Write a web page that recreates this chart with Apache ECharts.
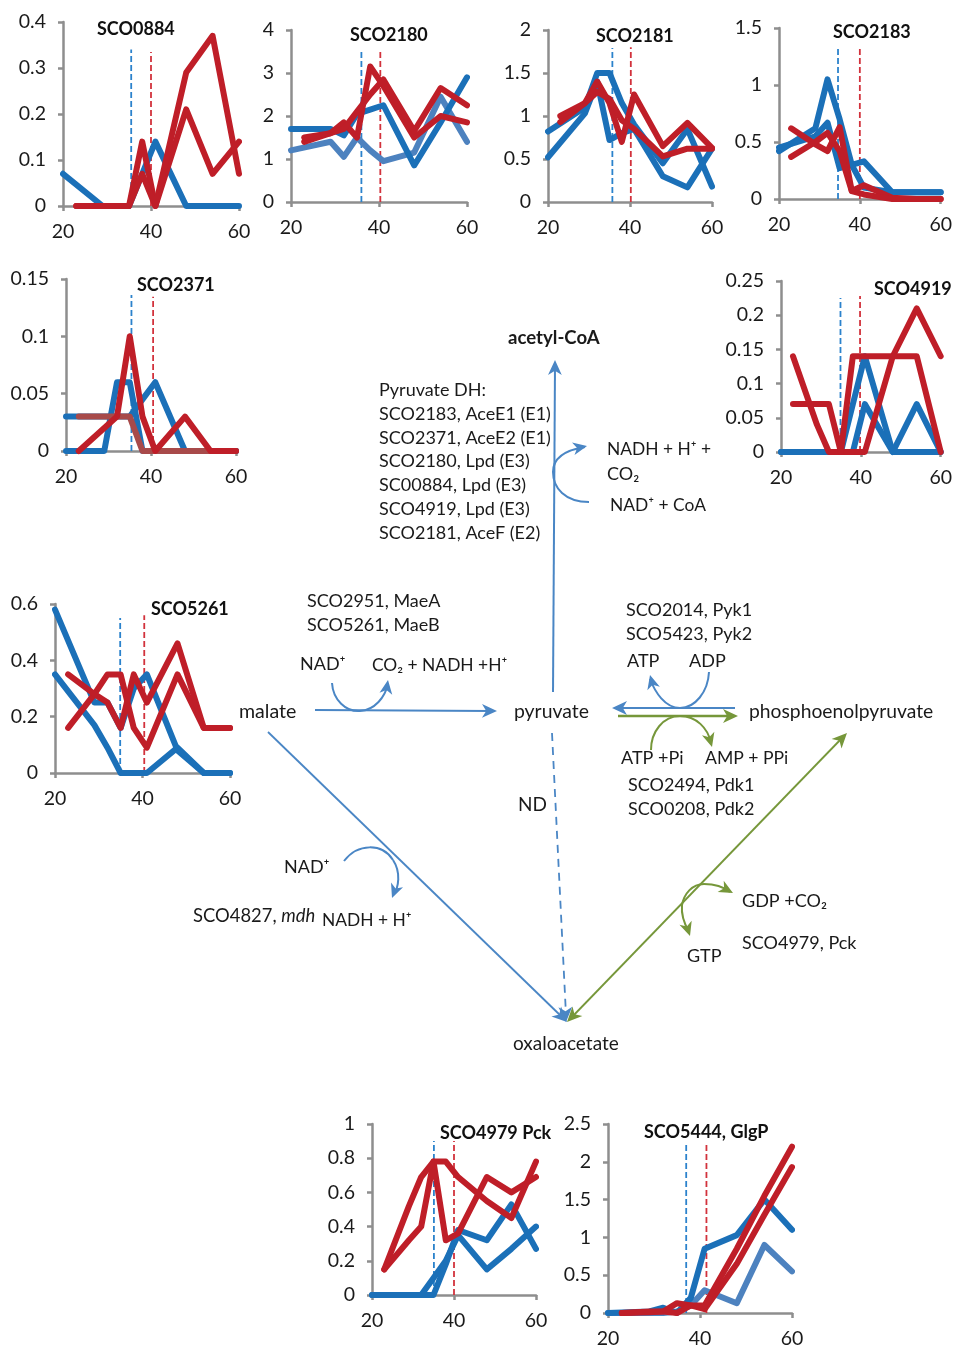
<!DOCTYPE html>
<html>
<head>
<meta charset="utf-8">
<style>html,body{margin:0;padding:0;background:#fff}#c{width:955px;height:1349px}</style>
<script src="https://cdn.jsdelivr.net/npm/echarts@6/dist/echarts.min.js"></script>
</head>
<body>
<div id="c"></div>
<script>
// ---- shared sampling times (h) ----
const blueTimes = [20, 29, 32, 35, 38, 41, 48, 54, 60];
const redTimes  = [23, 29, 32, 35, 38, 41, 48, 54, 60];

// ---- values ----
const sco0884Blue1 = [0.07, 0, 0, 0, 0.07, 0.14, 0, 0, 0];
const sco0884Red1  = [0, 0, 0, 0, 0.14, 0, 0.21, 0.07, 0.14];
const sco0884Red2  = [0, 0, 0, 0, 0.07, 0, 0.29, 0.37, 0.07];

const sco2180Blue1 = [1.7, 1.7, 1.55, 2.05, 2.15, 2.25, 0.85, 1.85, 2.9];
const sco2180Blue2 = [1.2, 1.4, 1.05, 1.5, 1.2, 0.95, 1.15, 2.45, 1.4];
const sco2180Red1  = [1.4, 1.6, 1.85, 1.5, 3.15, 2.7, 1.5, 2.0, 1.85];
const sco2180Red2  = [1.5, 1.6, 1.7, 2.1, 2.5, 2.85, 1.65, 2.65, 2.25];

const sco2181Blue1 = [0.82, 1.1, 1.5, 1.5, 1.15, 0.9, 0.45, 0.85, 0.18];
const sco2181Blue2 = [0.52, 1.03, 1.4, 0.72, 0.8, 0.85, 0.3, 0.17, 0.62];
const sco2181Red1  = [0.93, 1.15, 1.4, 1.15, 0.7, 1.25, 0.65, 0.92, 0.63];
const sco2181Red2  = [1.0, 1.15, 1.28, 1.2, 0.95, 0.85, 0.53, 0.62, 0.62];

const sco2183Blue1 = [0.42, 0.62, 1.05, 0.7, 0.3, 0.33, 0.06, 0.06, 0.06];
const sco2183Blue2 = [0.45, 0.55, 0.67, 0.27, 0.3, 0.1, 0.06, 0.06, 0.06];
const sco2183Red1  = [0.62, 0.48, 0.42, 0.63, 0.07, 0.12, 0.01, 0, 0];
const sco2183Red2  = [0.37, 0.5, 0.58, 0.42, 0.07, 0.04, 0, 0, 0];

const sco2371Blue1 = [0, 0, 0.06, 0.06, 0, 0, 0, 0, 0];
const sco2371Blue2 = [0.03, 0.03, 0.03, 0.03, 0.045, 0.06, 0, 0, 0];
const sco2371Red1  = [0.03, 0.03, 0.03, 0.03, 0, 0, 0, 0, 0];
const sco2371Red2  = [0, 0.02, 0.03, 0.1, 0.03, 0, 0.03, 0, 0];

const sco4919Blue1 = [0, 0, 0, 0, 0.07, 0.14, 0, 0, 0];
const sco4919Blue2 = [0, 0, 0, 0, 0, 0.07, 0, 0.07, 0];
const sco4919Red1  = [0.14, 0.04, 0, 0, 0, 0, 0.14, 0.21, 0.14];
const sco4919Red2  = [0.07, 0.07, 0.07, 0, 0.14, 0.14, 0.14, 0.14, 0];

const sco5261Blue1 = [0.58, 0.25, 0.25, 0.16, 0.3, 0.35, 0.08, 0, 0];
const sco5261Blue2 = [0.35, 0.17, 0.09, 0, 0, 0, 0.09, 0, 0];
const sco5261Red1  = [0.16, 0.28, 0.35, 0.35, 0.16, 0.09, 0.35, 0.16, 0.16];
const sco5261Red2  = [0.35, 0.28, 0.25, 0.16, 0.35, 0.25, 0.46, 0.16, 0.16];

const sco4979Blue1 = [0, 0, 0, 0.1, 0.2, 0.35, 0.15, 0.27, 0.4];
const sco4979Blue2 = [0, 0, 0, 0, 0.18, 0.38, 0.32, 0.53, 0.27];
const sco4979Red1  = [0.15, 0.32, 0.4, 0.78, 0.32, 0.36, 0.69, 0.6, 0.69];
const sco4979Red2  = [0.15, 0.52, 0.69, 0.78, 0.78, 0.69, 0.55, 0.45, 0.78];

const sco5444Blue1 = [0, 0.02, 0.07, 0, 0.2, 0.85, 1.03, 1.5, 1.1];
const sco5444Blue2 = [0, 0, 0, 0.02, 0.1, 0.3, 0.13, 0.9, 0.55];
const sco5444Red1  = [0, 0.01, 0.02, 0.13, 0.1, 0.05, 0.65, 1.3, 1.93];
const sco5444Red2  = [0, 0.02, 0.02, 0, 0.1, 0.1, 0.85, 1.55, 2.2];

// transition markers [time, height of the dashed line]
const marks0884 = [[35.5, 0.34], [40, 0.335]];
const marks2180 = [[36, 3.5], [40.3, 3.55]];
const marks2181 = [[35.7, 1.79], [40.2, 1.8]];
const marks2183 = [[34.6, 1.32], [40, 1.335]];
const marks2371 = [[35.4, 0.136], [40.5, 0.1345]];
const marks4919 = [[34.9, 0.225], [39.8, 0.228]];
const marks5261 = [[34.9, 0.55], [40.4, 0.56]];
const marks4979 = [[35.1, 0.9], [40, 0.9]];
const marks5444 = [[37, 2.24], [41.4, 2.26]];

// ---- colours / fonts ----
const FONT = 'Lato';
const BLUE = '#1b70b8', BLUE_L = '#4d82bf', RED = '#bf1e28', RED_T = '#a84a4a';
const ARROW_B = '#4a86c5', ARROW_G = '#76973a', AXIS = '#8e8e8e', INK = '#1a1a1a';

// ---- panels ----
const panels = [
  {name:'SCO0884', tx:97, ty:30, x0:63, x1:239, y0:206, y1:22, max:0.4, step:0.1, marks:marks0884,
   blue:[[sco0884Blue1,BLUE]], red:[[sco0884Red1,RED],[sco0884Red2,RED]]},
  {name:'SCO2180', tx:350, ty:36, x0:291, x1:467, y0:202, y1:30, max:4, step:1, marks:marks2180,
   blue:[[sco2180Blue2,BLUE_L],[sco2180Blue1,BLUE]], red:[[sco2180Red1,RED],[sco2180Red2,RED]]},
  {name:'SCO2181', tx:596, ty:37, x0:548, x1:712, y0:202, y1:30, max:2, step:0.5, marks:marks2181,
   blue:[[sco2181Blue1,BLUE],[sco2181Blue2,BLUE]], red:[[sco2181Red1,RED],[sco2181Red2,RED]]},
  {name:'SCO2183', tx:833, ty:33, x0:779, x1:943, y0:199, y1:28, max:1.5, step:0.5, marks:marks2183,
   blue:[[sco2183Blue1,BLUE],[sco2183Blue2,BLUE]], red:[[sco2183Red1,RED],[sco2183Red2,RED]]},
  {name:'SCO2371', tx:137, ty:286, x0:66, x1:236, y0:451, y1:279, max:0.15, step:0.05, marks:marks2371,
   blue:[[sco2371Blue1,BLUE],[sco2371Blue2,BLUE]], red:[[sco2371Red1,RED_T],[sco2371Red2,RED]]},
  {name:'SCO4919', tx:874, ty:290, x0:781, x1:946, y0:452, y1:281, max:0.25, step:0.05, marks:marks4919,
   blue:[[sco4919Blue1,BLUE],[sco4919Blue2,BLUE]], red:[[sco4919Red1,RED],[sco4919Red2,RED]]},
  {name:'SCO5261', tx:151, ty:610, x0:55, x1:230, y0:773, y1:604, max:0.6, step:0.2, marks:marks5261,
   blue:[[sco5261Blue1,BLUE],[sco5261Blue2,BLUE]], red:[[sco5261Red1,RED],[sco5261Red2,RED]]},
  {name:'SCO4979 Pck', tx:440, ty:1134, x0:372, x1:536, y0:1295, y1:1124, max:1, step:0.2, marks:marks4979,
   blue:[[sco4979Blue1,BLUE],[sco4979Blue2,BLUE]], red:[[sco4979Red1,RED],[sco4979Red2,RED]]},
  {name:'SCO5444, GlgP', tx:644, ty:1133, x0:608, x1:792, y0:1314, y1:1124, max:2.5, step:0.5, marks:marks5444,
   blue:[[sco5444Blue2,BLUE_L],[sco5444Blue1,BLUE]], red:[[sco5444Red1,RED],[sco5444Red2,RED]]}
];

const zip = (xs, ys) => xs.map((x, i) => [x, ys[i]]);
const grid = [], xAxis = [], yAxis = [], series = [], title = [];
panels.forEach((p, i) => {
  grid.push({left:p.x0, top:p.y1, width:p.x1 - p.x0, height:p.y0 - p.y1});
  const axisLine = {onZero:false, lineStyle:{color:AXIS, width:2.5}};
  const axisTick = {length:5, lineStyle:{color:AXIS, width:2.5}};
  const axisLabel = {color:INK, fontFamily:FONT, fontSize:19.5};
  xAxis.push({type:'value', gridIndex:i, min:20, max:60, interval:20, splitLine:{show:false},
    axisLine, axisTick, axisLabel:{...axisLabel, margin:16}});
  yAxis.push({type:'value', gridIndex:i, min:0, max:p.max, interval:p.step, splitLine:{show:false},
    axisLine, axisTick, axisLabel:{...axisLabel, margin:17}});
  title.push({text:p.name, left:p.tx, top:p.ty - 10, padding:0,
    textStyle:{fontFamily:FONT, fontSize:18, fontWeight:'bold', color:'#111'}});
  const base = {type:'line', xAxisIndex:i, yAxisIndex:i, symbol:'none', silent:true, clip:false, animation:false};
  p.marks.forEach((m, k) => series.push({...base,
    data:[[m[0], 0], [m[0], m[1]]],
    lineStyle:{color:k ? '#d2323c' : '#2b82cc', width:1.8, type:[6, 3]}}));
  p.blue.forEach(b => series.push({...base, data:zip(blueTimes, b[0]),
    lineStyle:{color:b[1], width:6, cap:'round', join:'round'}}));
  p.red.forEach(r => series.push({...base, data:zip(redTimes, r[0]),
    lineStyle:{color:r[1], width:6, cap:'round', join:'round'}}));
});

// ---- pathway diagram annotations ----
const g = [];
function text(x, y, s, o) {
  o = o || {};
  g.push({type:'text', silent:true, style:{x, y, text:s, fill:INK, align:'left', verticalAlign:'middle',
    font:(o.bold ? 'bold ' : '') + (o.size || 18) + 'px ' + FONT, rich:o.rich}});
}
function line(x1, y1, x2, y2, c, w, dash) {
  g.push({type:'line', silent:true, shape:{x1, y1, x2, y2}, style:{stroke:c, lineWidth:w || 1.6, lineDash:dash}});
}
function curve(x1, y1, a, b, c, d, x2, y2, col) {
  g.push({type:'bezierCurve', silent:true, shape:{x1, y1, cpx1:a, cpy1:b, cpx2:c, cpy2:d, x2, y2},
    style:{stroke:col, lineWidth:2, fill:null}});
}
function head(x, y, fx, fy, col, size) {
  // barbed arrow head with tip at x,y pointing away from fx,fy
  const L = size || 15, W = L * 0.46, a = Math.atan2(y - fy, x - fx);
  const ux = Math.cos(a), uy = Math.sin(a), nx = -uy, ny = ux;
  g.push({type:'polygon', silent:true, shape:{points:[
    [x, y],
    [x - ux * L + nx * W, y - uy * L + ny * W],
    [x - ux * L * 0.72, y - uy * L * 0.72],
    [x - ux * L - nx * W, y - uy * L - ny * W]
  ]}, style:{fill:col}});
}
// straight reactions
line(553, 692, 555, 365, ARROW_B, 2); head(555, 360, 553, 692, ARROW_B);
line(315, 710, 492, 711, ARROW_B, 2); head(497, 711, 315, 710, ARROW_B);
line(735, 708, 617, 708, ARROW_B, 2.2); head(612, 708, 735, 708, ARROW_B);
line(618, 716, 733, 716, ARROW_G, 2.6); head(738, 716, 618, 716, ARROW_G);
line(552, 733, 566, 1015, ARROW_B, 1.8, [8, 6]); head(566, 1022, 565, 1000, ARROW_B);
line(268, 732, 562, 1017, ARROW_B, 1.8); head(567, 1022, 268, 732, ARROW_B);
line(572, 1017, 842, 738, ARROW_G, 1.8);
head(847, 733, 572, 1017, ARROW_G); head(567, 1022, 842, 738, ARROW_G);
// cofactor curves
curve(589, 502, 565, 502, 553, 488, 553, 472, ARROW_B);
curve(553, 472, 553, 458, 566, 450, 585, 447, ARROW_B); head(587, 446, 572, 449, ARROW_B, 14);
curve(332, 683, 333, 700, 346, 712, 360, 711, ARROW_B);
curve(360, 711, 375, 710, 385, 697, 388, 684, ARROW_B); head(388, 680, 386, 693, ARROW_B, 14);
curve(709, 672, 708, 692, 695, 708, 680, 708, ARROW_B);
curve(680, 708, 665, 708, 655, 692, 650, 679, ARROW_B); head(650, 675, 654, 690, ARROW_B, 14);
curve(651, 750, 651, 732, 663, 716, 680, 716, ARROW_G);
curve(680, 716, 696, 716, 708, 728, 711, 743, ARROW_G); head(712, 747, 708, 733, ARROW_G, 14);
curve(344, 861, 358, 843, 382, 843, 393, 860, ARROW_B);
curve(393, 860, 401, 872, 399, 888, 393, 895, ARROW_B); head(392, 898, 397, 885, ARROW_B, 14);
curve(682, 905, 684, 894, 692, 884, 704, 884, ARROW_G);
curve(704, 884, 716, 884, 725, 888, 730, 892, ARROW_G); head(733, 893, 720, 886, ARROW_G, 14);
curve(682, 905, 681, 915, 685, 925, 689, 932, ARROW_G); head(690, 936, 686, 924, ARROW_G, 14);
// labels
text(508, 338, 'acetyl-CoA', {bold:true, size:18.6});
text(379, 390, 'Pyruvate DH:');
text(379, 414, 'SCO2183, AceE1 (E1)');
text(379, 438, 'SCO2371, AceE2 (E1)');
text(379, 461, 'SCO2180, Lpd (E3)');
text(379, 485, 'SC00884, Lpd (E3)');
text(379, 509, 'SCO4919, Lpd (E3)');
text(379, 533, 'SCO2181, AceF (E2)');
text(607, 449, 'NADH + H⁺ +', {size:17.4});
text(607, 474, 'CO₂');
text(610, 505, 'NAD⁺ + CoA', {size:17.4});
text(307, 601, 'SCO2951, MaeA');
text(307, 625, 'SCO5261, MaeB');
text(626, 610, 'SCO2014, Pyk1');
text(626, 634, 'SCO5423, Pyk2');
text(300, 664, 'NAD⁺');
text(372, 665, 'CO₂ + NADH +H⁺', {size:17.4});
text(627, 661, 'ATP');
text(689, 661, 'ADP');
text(239, 712, 'malate', {size:19.6});
text(514, 712, 'pyruvate', {size:19.4});
text(749, 712, 'phosphoenolpyruvate', {size:19.3});
text(621, 758, 'ATP +Pi');
text(705, 758, 'AMP + PPi', {size:17.6});
text(628, 785, 'SCO2494, Pdk1');
text(628, 809, 'SCO0208, Pdk2');
text(518, 805, 'ND', {size:19});
text(284, 867, 'NAD⁺');
text(193, 916, '{n|SCO4827, }{i|mdh}', {rich:{
  n:{font:'18.4px ' + FONT, fill:INK}, i:{font:'italic 18.4px ' + FONT, fill:INK}}});
text(322, 920, 'NADH + H⁺', {size:17.4});
text(742, 901, 'GDP +CO₂');
text(742, 943, 'SCO4979, Pck');
text(687, 956, 'GTP');
text(513, 1044, 'oxaloacetate', {size:19});

const chart = echarts.init(document.getElementById('c'), null, {renderer:'canvas'});
chart.setOption({animation:false, backgroundColor:'#fff', title, grid, xAxis, yAxis, series,
  graphic:{elements:g}});
</script>
</body>
</html>
